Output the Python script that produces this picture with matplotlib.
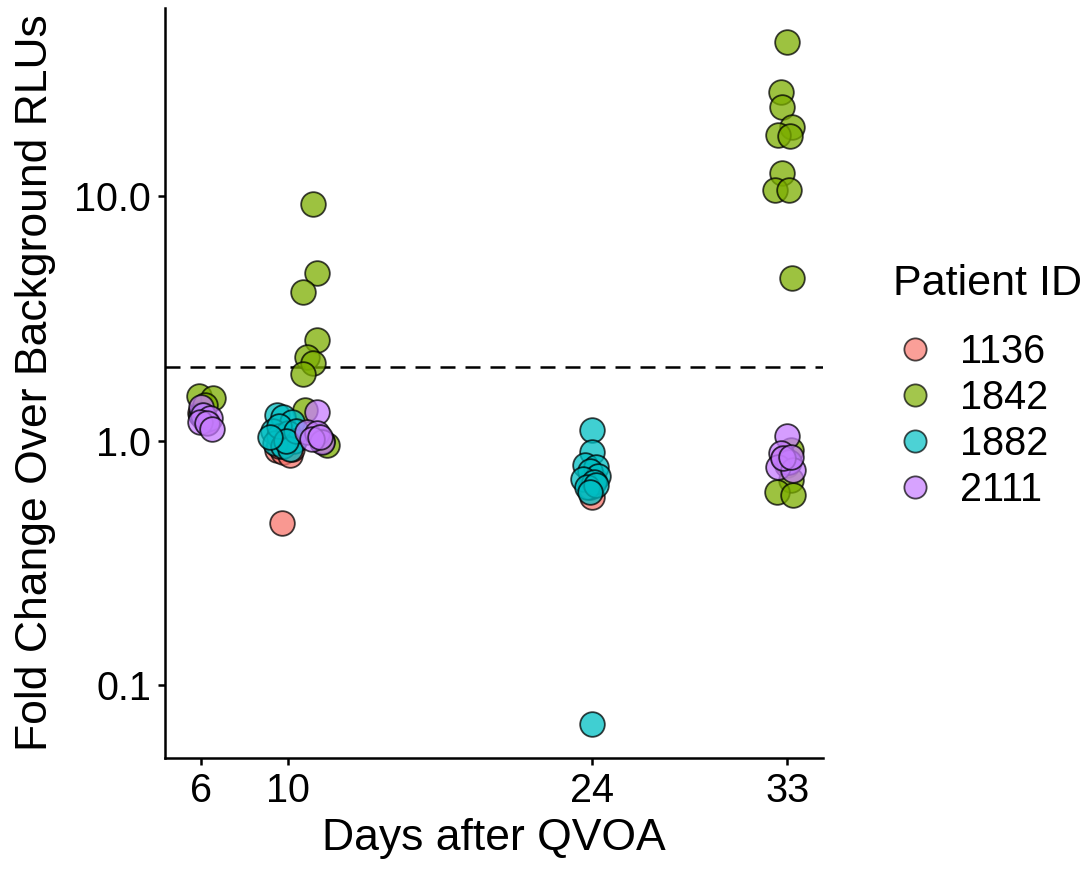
import numpy as np
import matplotlib.pyplot as plt
from matplotlib.lines import Line2D

plt.rcParams['font.family'] = ['Liberation Sans', 'DejaVu Sans']

# jittered day positions and fold change, one pair of lists per patient
p1136_day = [6.1, 6.3, 5.95, 9.73, 9.5, 9.8, 10.1, 9.6, 10.2, 24.0, 23.9, 24.1, 33.0, 32.8]
p1136_fc = [1.25, 1.2, 1.3, 0.46, 0.92, 0.90, 0.88, 0.95, 0.93, 0.59, 0.65, 0.70, 0.80, 0.85]

p1842_day = [5.91, 6.55, 6.2,
             11.16, 11.35, 10.70, 11.35, 10.88, 11.16, 10.70, 10.79, 11.81, 11.6,
             24.0,
             33.0, 32.73, 32.77, 33.23, 32.59, 33.14, 32.77, 32.45, 33.1, 33.23,
             33.2, 32.55, 33.28, 33.2]
p1842_fc = [1.52, 1.50, 1.4,
            9.3, 4.87, 4.07, 2.59, 2.21, 2.08, 1.87, 1.34, 0.96, 1.0,
            0.7,
            43.0, 26.8, 23.3, 19.3, 17.8, 17.6, 12.5, 10.6, 10.6, 4.64,
            0.69, 0.62, 0.60, 0.92]

p1882_day = [6.2, 6.0,
             9.5, 9.8, 10.2, 9.3, 9.6, 10.0, 10.3, 9.4, 9.8, 10.1, 9.6, 10.4, 9.9, 9.2,
             24.0, 24.0, 23.7, 24.2, 23.9, 24.3, 23.6, 24.1, 23.8, 24.2, 23.9, 24.0,
             33.0]
p1882_fc = [1.22, 1.28,
            1.28, 1.25, 1.2, 1.1, 1.05, 1.08, 1.0, 0.98, 0.95, 0.93, 1.15, 1.1, 1.0, 1.04,
            1.11, 0.90, 0.80, 0.78, 0.75, 0.72, 0.70, 0.68, 0.65, 0.66, 0.62, 0.0697,
            0.82]

p2111_day = [6.0, 6.09, 6.41, 5.95, 6.28, 6.5,
             11.35, 10.9, 11.35, 11.58, 11.1, 11.5,
             33.0, 32.73, 33.1, 32.6, 33.28, 32.8, 33.2]
p2111_fc = [1.38, 1.28, 1.24, 1.2, 1.18, 1.12,
            1.31, 1.09, 1.08, 0.99, 1.02, 1.04,
            1.05, 0.89, 0.82, 0.78, 0.76, 0.85, 0.86]

patients = ['1136', '1842', '1882', '2111']
colors = ['#F8766D', '#7CAE00', '#00BFC4', '#C77CFF']
days = [p1136_day, p1842_day, p1882_day, p2111_day]
folds = [p1136_fc, p1842_fc, p1882_fc, p2111_fc]

x_ticks = [6, 10, 24, 33]
y_ticks = [0.1, 1.0, 10.0]
y_ticklabels = ['0.1', '1.0', '10.0']
threshold = 2

fig = plt.figure(figsize=(10.88, 8.81), dpi=100)
ax = fig.add_axes([0.1517, 0.1396, 0.6047, 0.8514])

for d, f, c in zip(days, folds, colors):
    ax.scatter(d, f, s=315, c=c, alpha=0.75, edgecolors='black', linewidths=1.3, zorder=3)

ax.axhline(threshold, color='black', lw=1.8, ls=(0, (6, 4)), zorder=2)

ax.set_yscale('log')
ax.set_ylim(0.0505, 59)
ax.set_xlim(4.35, 34.65)
ax.set_yticks(y_ticks)
ax.set_yticklabels(y_ticklabels)
ax.yaxis.set_minor_locator(plt.NullLocator())
ax.set_xticks(x_ticks)

for s in ['top', 'right']:
    ax.spines[s].set_visible(False)
for s in ['left', 'bottom']:
    ax.spines[s].set_linewidth(1.8)
ax.tick_params(labelsize=28.5, length=5, width=1.8, pad=5)

ax.set_xlabel('Days after QVOA', fontsize=32, labelpad=6)
ax.set_ylabel('Fold Change Over Background RLUs', fontsize=32, labelpad=13)

fig.text(0.8208, 0.6775, 'Patient ID', fontsize=31, ha='left', va='center')
handles = [Line2D([], [], ls='none', marker='o', markersize=16, markerfacecolor=c,
                  markeredgecolor='black', markeredgewidth=1.3, alpha=0.7)
           for c in colors]
leg = fig.legend(handles, patients, loc='upper left',
                 bbox_to_anchor=(0.8226, 0.622), frameon=False, fontsize=28.5,
                 labelspacing=0.2, handlelength=1.0, handletextpad=0.65,
                 borderaxespad=0, borderpad=0)

fig.savefig('out.png', dpi=100)
